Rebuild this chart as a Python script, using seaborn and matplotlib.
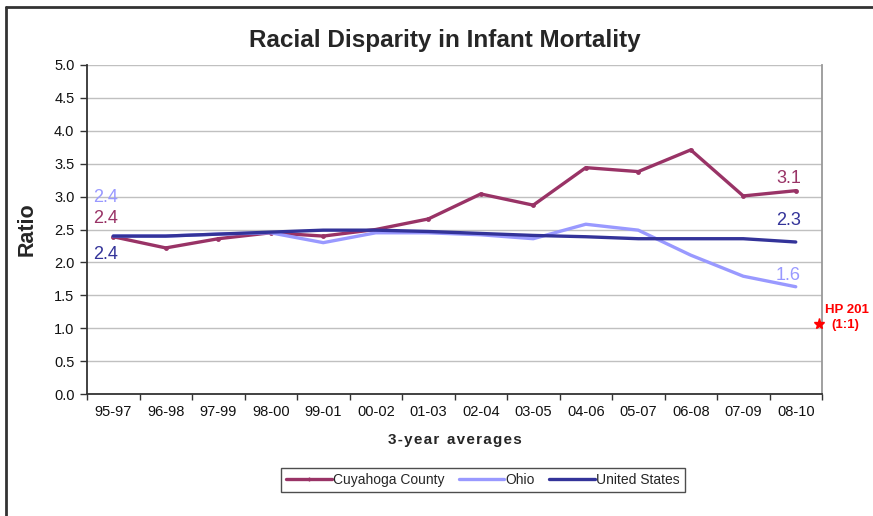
import numpy as np
import pandas as pd
import matplotlib
matplotlib.use("Agg")
import matplotlib.pyplot as plt
from matplotlib.lines import Line2D
import seaborn as sns

periods = ["95-97", "96-98", "97-99", "98-00", "99-01", "00-02", "01-03",
           "02-04", "03-05", "04-06", "05-07", "06-08", "07-09", "08-10"]
cuyahoga = [2.39, 2.22, 2.36, 2.45, 2.40, 2.50, 2.66, 3.04, 2.87, 3.44, 3.38, 3.71, 3.01, 3.09]
ohio = [2.40, 2.40, 2.43, 2.45, 2.30, 2.45, 2.45, 2.42, 2.36, 2.58, 2.49, 2.11, 1.79, 1.63]
us = [2.40, 2.40, 2.43, 2.46, 2.49, 2.49, 2.47, 2.44, 2.41, 2.39, 2.36, 2.36, 2.36, 2.31]
series_names = ["Cuyahoga County", "Ohio", "United States"]
colors = {"Cuyahoga County": "#993366", "Ohio": "#9999FF", "United States": "#333399"}
hp_value = 1.07

sns.set_theme(style="white")
plt.rcParams['font.family'] = ['Liberation Sans', 'DejaVu Sans']

fig = plt.figure(figsize=(8.73, 5.16), dpi=100)
ax = fig.add_axes([87/873, 1-394/516, (822-87)/873, (394-65)/516])

x = np.arange(len(periods))
frames = []
for name, vals in zip(series_names, [cuyahoga, ohio, us]):
    frames.append(pd.DataFrame({"x": x, "value": vals, "series": name}))
df = pd.concat(frames, ignore_index=True)

for name in series_names:
    sub = df[df.series == name]
    sns.lineplot(data=sub, x="x", y="value", ax=ax, color=colors[name], lw=2.4,
                 marker="o" if name == "Cuyahoga County" else None,
                 markersize=3.5, markeredgewidth=0, legend=False, zorder=3)

ax.set_xlim(-0.5, len(periods) - 0.5)
ax.set_ylim(0, 5)
ax.set_yticks(np.arange(0, 5.01, 0.5))
ax.set_yticklabels([f"{v:.1f}" for v in np.arange(0, 5.01, 0.5)], fontsize=10.5, color="#111111")
ax.yaxis.grid(True, color="#C0C0C0", lw=1)
ax.set_xticks(np.arange(-0.5, len(periods), 1.0))
ax.set_xticklabels([])
ax.set_xticks(x, minor=True)
ax.set_xticklabels(periods, minor=True, fontsize=10.5, color="#111111")
ax.tick_params(axis="x", which="major", direction="out", length=4, width=1, color="#333333", bottom=True)
ax.tick_params(axis="x", which="minor", length=0, pad=8)
ax.tick_params(axis="y", direction="out", length=5, width=1, color="#333333", left=True, pad=4)

for s in ["left", "bottom"]:
    ax.spines[s].set_color("#333333")
    ax.spines[s].set_linewidth(1.3)
ax.spines["right"].set_color("#999999")
ax.spines["right"].set_linewidth(1.3)
ax.spines["top"].set_visible(False)

ax.set_xlabel("3 - y e a r   a v e r a g e s".replace("   ", "\u2002").replace(" ", "\u200a"),
              fontsize=11, fontweight="bold", labelpad=10)
ax.set_ylabel("Ratio", fontsize=15.5, fontweight="bold", labelpad=12)
fig.text(445/873, 1-40/516, "Racial Disparity in Infant Mortality", ha="center", va="center",
         fontsize=17.5, fontweight="bold")

# data labels
ax.text(-0.38, 2.98, f"{ohio[0]:.1f}", color=colors["Ohio"], fontsize=13, ha="left", va="center")
ax.text(-0.38, 2.66, f"{cuyahoga[0]:.1f}", color=colors["Cuyahoga County"], fontsize=13, ha="left", va="center")
ax.text(-0.38, 2.12, f"{us[0]:.1f}", color=colors["United States"], fontsize=13, ha="left", va="center")
ax.text(13.1, 3.28, f"{cuyahoga[-1]:.1f}", color=colors["Cuyahoga County"], fontsize=13, ha="right", va="center")
ax.text(13.1, 2.64, f"{us[-1]:.1f}", color=colors["United States"], fontsize=13, ha="right", va="center")
ax.text(13.1, 1.80, f"{ohio[-1]:.1f}", color=colors["Ohio"], fontsize=13, ha="right", va="center")

ax.plot([13.45], [hp_value], marker="*", color="red", markersize=8, clip_on=False, zorder=5)
ax.text(13.55, 1.28, "HP 201", color="red", fontsize=9.5, fontweight="bold", ha="left", va="center", clip_on=False)
ax.text(13.68, 1.05, "(1:1)", color="red", fontsize=9.5, fontweight="bold", ha="left", va="center", clip_on=False)

handles = [Line2D([0], [0], color=colors["Cuyahoga County"], lw=2.4, marker="|", markersize=3),
           Line2D([0], [0], color=colors["Ohio"], lw=2.4),
           Line2D([0], [0], color=colors["United States"], lw=2.4)]
leg = fig.legend(handles, series_names, loc="center", bbox_to_anchor=(483/873, 1-480/516), ncol=3,
                 fontsize=10, frameon=True, fancybox=False, handlelength=3.3, handletextpad=0.1,
                 columnspacing=1.0, borderpad=0.35)
leg.get_frame().set_edgecolor("#222222")
leg.get_frame().set_linewidth(1.0)

fig.add_artist(Line2D([6/873, 6/873], [0, 1-7/516], color="#333333", lw=2, transform=fig.transFigure))
fig.add_artist(Line2D([6/873, 1], [1-7/516, 1-7/516], color="#333333", lw=2, transform=fig.transFigure))

fig.savefig("out.png", dpi=100)
